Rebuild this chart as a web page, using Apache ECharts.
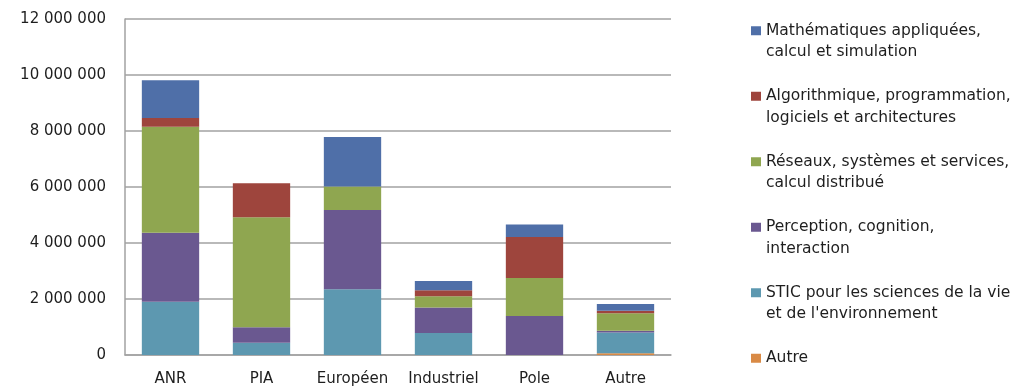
<!DOCTYPE html>
<html>
<head>
<meta charset="utf-8">
<style>
  html, body { margin: 0; padding: 0; background: #ffffff; }
  #chart { width: 1025px; height: 387px; }
</style>
<script src="https://cdn.jsdelivr.net/npm/echarts@6/dist/echarts.min.js"></script>
</head>
<body>
<div id="chart"></div>
<script>
// Funding sources (x categories)
const categories = ['ANR', 'PIA', 'Européen', 'Industriel', 'Pole', 'Autre'];

// Amounts per research theme, one value per funding source
const mathematiques = [1350000, 0, 1770000, 330000, 450000, 240000];
const algorithmique = [310000, 1210000, 0, 210000, 1460000, 90000];
const reseaux = [3780000, 3930000, 840000, 400000, 1360000, 620000];
const perception = [2470000, 550000, 2830000, 910000, 1390000, 70000];
const stic = [1900000, 440000, 2350000, 790000, 0, 740000];
const autre = [0, 0, 0, 0, 0, 60000];

// Value axis ticks
const yTicks = [0, 2000000, 4000000, 6000000, 8000000, 10000000, 12000000];

// Theme names, stacked from the bottom up
const themes = [
  { name: 'Autre', data: autre, color: '#d98a45' },
  { name: "STIC pour les sciences de la vie\net de l'environnement", data: stic, color: '#5d98b0' },
  { name: 'Perception, cognition,\ninteraction', data: perception, color: '#6a5890' },
  { name: 'Réseaux, systèmes et services,\ncalcul distribué', data: reseaux, color: '#8fa650' },
  { name: 'Algorithmique, programmation,\nlogiciels et architectures', data: algorithmique, color: '#9e453d' },
  { name: 'Mathématiques appliquées,\ncalcul et simulation', data: mathematiques, color: '#4f6fa8' }
];

const FONT = 'DejaVu Sans';
const GRID_COLOR = '#a2a2a2';

function groupThousands(v) {
  return String(v).replace(/\B(?=(\d{3})+(?!\d))/g, ' ');
}

const chart = echarts.init(document.getElementById('chart'), null, { renderer: 'canvas' });

chart.setOption({
  animation: false,
  backgroundColor: '#ffffff',
  grid: { left: 125, right: 354, top: 19, bottom: 32, containLabel: false },
  legend: {
    orient: 'vertical',
    left: 751,
    top: -1.5,
    height: 440,
    padding: 0,
    itemGap: 1,
    itemWidth: 10,
    itemHeight: 9,
    icon: 'rect',
    data: themes.slice().reverse().map(t => t.name),
    // leading blank line keeps the marker beside the first text line
    formatter: name => name.indexOf('\n') >= 0 ? '\n' + name : '\n' + name + '\n',
    textStyle: { fontFamily: FONT, fontSize: 15.5, lineHeight: 21.5, color: '#1e1e1e' }
  },
  xAxis: {
    type: 'category',
    data: categories,
    axisLine: { show: true, lineStyle: { color: GRID_COLOR, width: 1.5 } },
    axisTick: { show: false },
    axisLabel: { interval: 0, fontFamily: FONT, fontSize: 15, color: '#1e1e1e', margin: 17 }
  },
  yAxis: {
    type: 'value',
    min: yTicks[0],
    max: yTicks[yTicks.length - 1],
    interval: yTicks[1] - yTicks[0],
    axisLine: { show: true, lineStyle: { color: GRID_COLOR, width: 1.5 } },
    axisTick: { show: false },
    splitLine: { show: true, lineStyle: { color: GRID_COLOR, width: 1.5 } },
    axisLabel: {
      fontFamily: FONT, fontSize: 15, color: '#1e1e1e', margin: 19,
      formatter: v => groupThousands(v)
    }
  },
  series: themes.map(t => ({
    name: t.name,
    type: 'bar',
    stack: 'total',
    data: t.data,
    barWidth: '63%',
    itemStyle: { color: t.color },
    emphasis: { disabled: true }
  }))
});
</script>
</body>
</html>
